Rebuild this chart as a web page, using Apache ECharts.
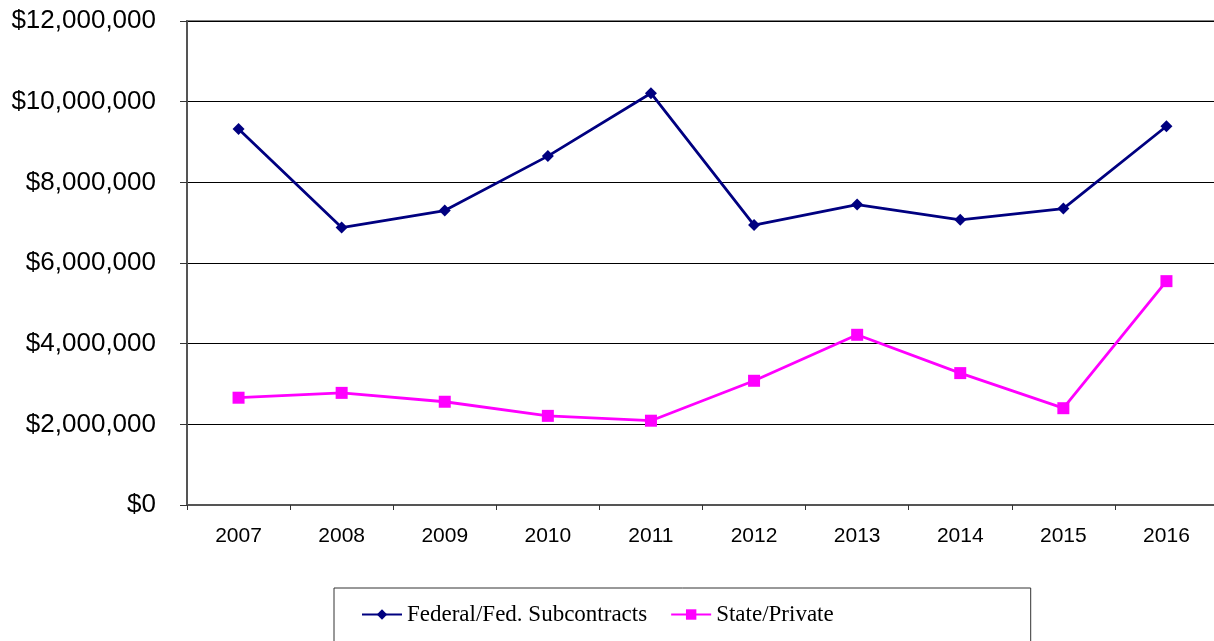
<!DOCTYPE html>
<html>
<head>
<meta charset="utf-8">
<script src="https://cdn.jsdelivr.net/npm/echarts@6/dist/echarts.min.js"></script>
<style>
html,body{margin:0;padding:0;background:#fff;}
#chart{width:1214px;height:641px;}
</style>
</head>
<body>
<div id="chart"></div>
<script>
const years = ['2007','2008','2009','2010','2011','2012','2013','2014','2015','2016'];
const federal = [9320000, 6880000, 7300000, 8650000, 10210000, 6940000, 7450000, 7070000, 7350000, 9390000];
const statePrivate = [2660000, 2780000, 2560000, 2210000, 2090000, 3080000, 4220000, 3270000, 2400000, 5550000];
const seriesNames = ['Federal/Fed. Subcontracts', 'State/Private'];

const chart = echarts.init(document.getElementById('chart'), null, {renderer: 'canvas'});
function fmt(v){
  return '$' + String(v).replace(/\B(?=(\d{3})+(?!\d))/g, ',');
}
chart.setOption({
  animation: false,
  backgroundColor: '#ffffff',
  grid: {
    left: 187, top: 21, width: 1031, height: 484,
    outerBoundsMode: 'none', containLabel: false,
    show: true, borderColor: '#808080', borderWidth: 2, backgroundColor: 'transparent'
  },
  legend: {
    data: seriesNames,
    left: 334, top: 588,
    padding: [15, 197, 30, 27],
    itemWidth: 40, itemHeight: 13, itemGap: 23,
    borderColor: '#333333', borderWidth: 1,
    textStyle: {fontFamily: 'Liberation Serif', fontSize: 23, color: '#000'}
  },
  xAxis: {
    type: 'category',
    data: years,
    boundaryGap: true,
    axisLine: {lineStyle: {color: '#555555', width: 2}},
    axisTick: {show: true, length: 5, lineStyle: {color: '#333', width: 1}},
    axisLabel: {fontFamily: 'Liberation Sans', fontSize: 21, color: '#000', margin: 21}
  },
  yAxis: {
    type: 'value',
    min: 0, max: 12000000, interval: 2000000,
    axisLine: {show: true, lineStyle: {color: '#555555', width: 2}},
    axisTick: {show: true, length: 7, lineStyle: {color: '#333', width: 1}},
    splitLine: {show: true, lineStyle: {color: '#000000', width: 1}},
    axisLabel: {fontFamily: 'Liberation Sans', fontSize: 26, color: '#000', margin: 31, formatter: fmt}
  },
  series: [
    {
      name: seriesNames[0], type: 'line', data: federal,
      symbol: 'diamond', symbolSize: 12,
      lineStyle: {color: '#000080', width: 2.8},
      itemStyle: {color: '#000080'}
    },
    {
      name: seriesNames[1], type: 'line', data: statePrivate,
      symbol: 'rect', symbolSize: 12,
      lineStyle: {color: '#FF00FF', width: 2.8},
      itemStyle: {color: '#FF00FF'}
    }
  ]
});
</script>
</body>
</html>
